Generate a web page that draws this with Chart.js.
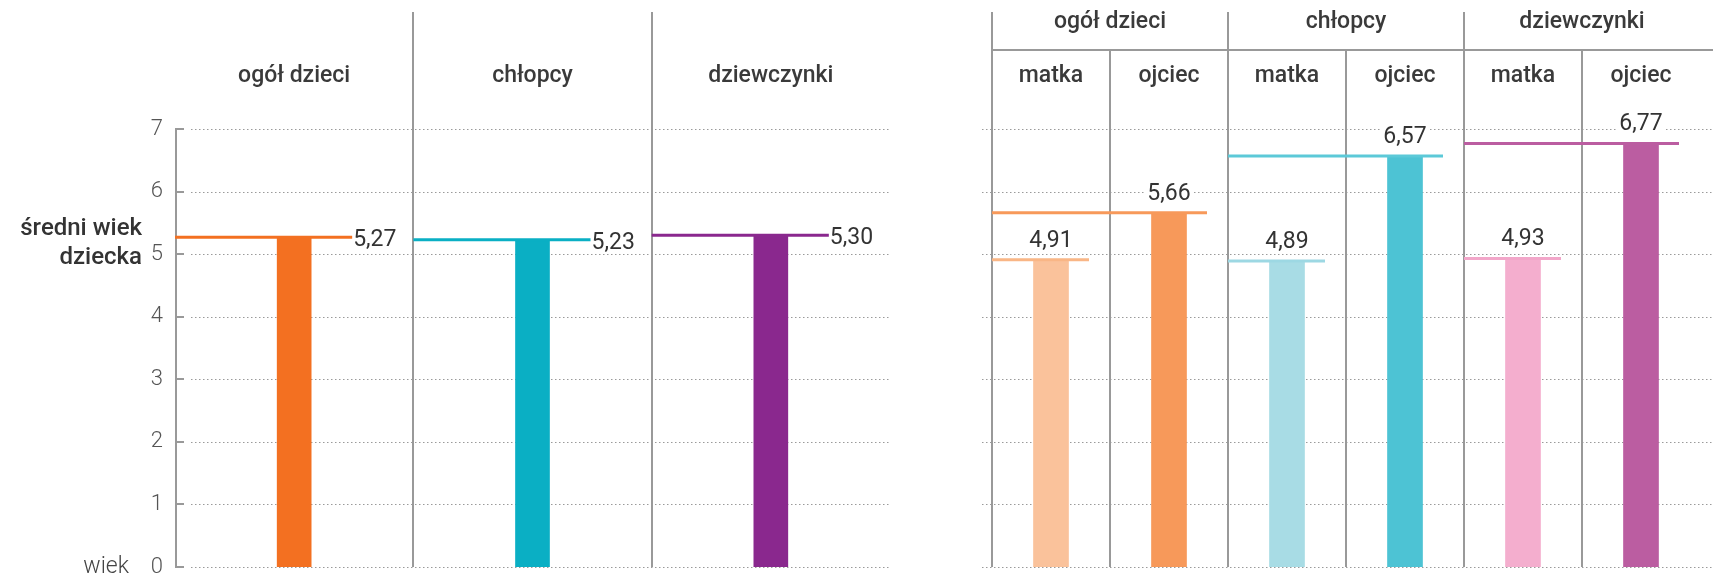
<!DOCTYPE html>
<html lang="pl">
<head>
<meta charset="utf-8">
<title>Średni wiek dziecka</title>
<script src="https://cdn.jsdelivr.net/npm/chart.js@4/dist/chart.umd.min.js"></script>
<style>
    html, body { margin: 0; padding: 0; background: #fff; }
    #wrap { position: relative; width: 1713px; height: 576px; overflow: hidden; }
    canvas { position: absolute; top: 0; }
    #leftChart { left: 0; }
    #rightChart { left: 900px; }
</style>
</head>
<body>
<div id="wrap">
    <canvas id="leftChart" width="900" height="576"></canvas>
    <canvas id="rightChart" width="813" height="576"></canvas>
</div>
<script>
// data
const yTicks = [0, 1, 2, 3, 4, 5, 6, 7];

const leftCategories = ['ogół dzieci', 'chłopcy', 'dziewczynki'];
const leftValues = [5.27, 5.23, 5.30];
const leftColors = ['#F37021', '#0AAFC4', '#8A288E'];

const rightGroups = ['ogół dzieci', 'chłopcy', 'dziewczynki'];
const rightParents = ['matka', 'ojciec', 'matka', 'ojciec', 'matka', 'ojciec'];
const rightValues = [4.91, 5.66, 4.89, 6.57, 4.93, 6.77];
const rightColors = ['#FAC29B', '#F7995A', '#A8DCE5', '#4DC3D4', '#F4AECE', '#BB5DA1'];
const rightLineColors = ['#F9B686', '#F7995A', '#9DD8E3', '#5CC9D8', '#F2A6C9', '#BB5DA1'];

const FONT = 'Roboto, "Noto Sans", sans-serif';
const GRID = '#9a9a9a';
const DIVIDER = '#999999';
const TEXT = '#333333';

const fmt = v => v.toFixed(2).replace('.', ',');

function dotted(ctx, x1, x2, y) {
    ctx.save();
    ctx.strokeStyle = GRID;
    ctx.lineWidth = 1;
    ctx.setLineDash([1.5, 2.5]);
    ctx.beginPath();
    ctx.moveTo(x1, Math.round(y) + 0.5);
    ctx.lineTo(x2, Math.round(y) + 0.5);
    ctx.stroke();
    ctx.restore();
}

function segment(ctx, x1, y1, x2, y2) {
    ctx.save();
    ctx.setLineDash([]);
    ctx.strokeStyle = DIVIDER;
    ctx.lineWidth = 2;
    ctx.beginPath();
    ctx.moveTo(x1, y1);
    ctx.lineTo(x2, y2);
    ctx.stroke();
    ctx.restore();
}

function vline(ctx, x, y1, y2) {
    segment(ctx, Math.round(x), y1, Math.round(x), y2);
}

function text(ctx, str, x, y, opts) {
    ctx.save();
    ctx.font = (opts.weight || 400) + ' ' + (opts.size || 22) + 'px ' + FONT;
    ctx.fillStyle = opts.color || TEXT;
    ctx.textAlign = opts.align || 'center';
    ctx.textBaseline = 'middle';
    ctx.fillText(str, x, y);
    ctx.restore();
}

const leftPlugin = {
    id: 'leftDecor',
    beforeDatasetsDraw(chart) {
        const { ctx, chartArea: a, scales: { x, y } } = chart;
        const w = x.getPixelForValue(1) - x.getPixelForValue(0);

        yTicks.forEach(v => dotted(ctx, a.left + 16, a.right, y.getPixelForValue(v)));

        for (let i = 1; i < leftCategories.length; i++) {
            vline(ctx, x.getPixelForValue(i) - w / 2, 12, a.bottom);
        }
    },
    afterDatasetsDraw(chart) {
        const { ctx, chartArea: a, scales: { x, y } } = chart;
        const w = x.getPixelForValue(1) - x.getPixelForValue(0);
        const bars = chart.getDatasetMeta(0).data;

        // axis with short ticks pointing into the plot
        const ax = Math.round(a.left) + 1;
        vline(ctx, ax, y.getPixelForValue(7) - 1, y.getPixelForValue(0) + 1);
        yTicks.forEach(v => {
            const py = Math.round(y.getPixelForValue(v));
            segment(ctx, ax - 1, py, ax + 8, py);
        });

        leftCategories.forEach((c, i) => {
            text(ctx, c, x.getPixelForValue(i), 76, { size: 23, weight: 500, color: '#3a3a3a' });
        });

        leftValues.forEach((v, i) => {
            const bx = bars[i].x;
            const py = y.getPixelForValue(v);
            const x1 = x.getPixelForValue(i) - w / 2;
            const x2 = bx + 58;
            ctx.save();
            ctx.strokeStyle = leftColors[i];
            ctx.lineWidth = 3;
            ctx.beginPath();
            ctx.moveTo(x1, py);
            ctx.lineTo(x2, py);
            ctx.stroke();
            ctx.restore();
            text(ctx, fmt(v), x2 + 1, py + 3, { size: 23, weight: 400, align: 'left' });
        });

        text(ctx, 'średni wiek', 142, 229, { size: 24, weight: 500, align: 'right' });
        text(ctx, 'dziecka', 142, 258, { size: 24, weight: 500, align: 'right' });
        text(ctx, 'wiek', 129, y.getPixelForValue(0), { size: 23, weight: 300, align: 'right', color: '#444' });
    }
};

const rightPlugin = {
    id: 'rightDecor',
    beforeDatasetsDraw(chart) {
        const { ctx, chartArea: a, scales: { x, y } } = chart;
        const w = x.getPixelForValue(1) - x.getPixelForValue(0);

        yTicks.forEach(v => dotted(ctx, a.left - 10, chart.width, y.getPixelForValue(v)));

        rightParents.forEach((p, i) => {
            const bx = x.getPixelForValue(i) - w / 2;
            vline(ctx, bx, i % 2 === 0 ? 12 : 50, a.bottom);
        });

        segment(ctx, a.left, 50, chart.width, 50);
    },
    afterDatasetsDraw(chart) {
        const { ctx, scales: { x, y } } = chart;
        const w = x.getPixelForValue(1) - x.getPixelForValue(0);
        const bars = chart.getDatasetMeta(0).data;

        rightGroups.forEach((g, gi) => {
            const cx = (x.getPixelForValue(gi * 2) + x.getPixelForValue(gi * 2 + 1)) / 2;
            text(ctx, g, cx, 22, { size: 23, weight: 500, color: '#3a3a3a' });
        });
        rightParents.forEach((p, i) => {
            text(ctx, p, x.getPixelForValue(i), 76, { size: 23, weight: 500, color: '#3a3a3a' });
        });

        rightValues.forEach((v, i) => {
            const bx = bars[i].x;
            const py = y.getPixelForValue(v);
            const gStart = Math.floor(i / 2) * 2;
            const x1 = x.getPixelForValue(gStart) - w / 2;
            const x2 = bx + 38;
            ctx.save();
            ctx.strokeStyle = rightLineColors[i];
            ctx.lineWidth = 3;
            ctx.beginPath();
            ctx.moveTo(x1, py);
            ctx.lineTo(x2, py);
            ctx.stroke();

            const label = fmt(v);
            ctx.font = '400 23px ' + FONT;
            const tw = ctx.measureText(label).width;
            ctx.fillStyle = '#fff';
            ctx.fillRect(bx - tw / 2 - 3, py - 33, tw + 6, 26);
            ctx.restore();
            text(ctx, label, bx, py - 19, { size: 23, weight: 400 });
        });
    }
};

const yScale = {
    min: 0,
    max: 7,
    grid: { display: false, drawTicks: false },
    border: { display: false },
    ticks: {
        stepSize: 1,
        padding: 12,
        color: '#555',
        font: { family: FONT, size: 22, weight: 300 }
    }
};

new Chart(document.getElementById('leftChart'), {
    type: 'bar',
    data: {
        labels: leftCategories,
        datasets: [{
            data: leftValues,
            backgroundColor: leftColors,
            borderWidth: 0,
            barThickness: 34
        }]
    },
    options: {
        responsive: false,
        animation: false,
        layout: { padding: { left: 0, right: 10, top: 129, bottom: 9 } },
        plugins: { legend: { display: false }, tooltip: { enabled: false } },
        scales: {
            x: { display: false },
            y: {
                ...yScale,
                afterFit: s => {
                    s.width = 175;
                    s.paddingTop = 0;
                    s.paddingBottom = 0;
                }
            }
        }
    },
    plugins: [leftPlugin]
});

new Chart(document.getElementById('rightChart'), {
    type: 'bar',
    data: {
        labels: rightParents,
        datasets: [{
            data: rightValues,
            backgroundColor: rightColors,
            borderWidth: 0,
            barThickness: 35
        }]
    },
    options: {
        responsive: false,
        animation: false,
        layout: { padding: { left: 92, right: 13, top: 129, bottom: 9 } },
        plugins: { legend: { display: false }, tooltip: { enabled: false } },
        scales: {
            x: { display: false },
            y: { ...yScale, display: false }
        }
    },
    plugins: [rightPlugin]
});
</script>
</body>
</html>
